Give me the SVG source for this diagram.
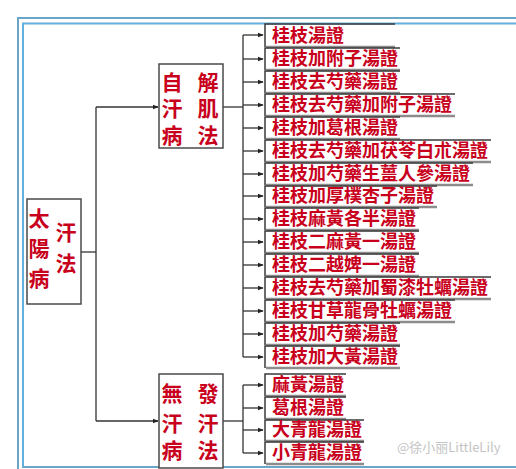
<svg xmlns="http://www.w3.org/2000/svg" width="516" height="469" viewBox="0 0 516 469">
<style>
.frame1{fill:none;stroke:#6aa6c6;stroke-width:2}
.frame2{fill:none;stroke:#62b0e0;stroke-width:2}
.box{fill:#fff;stroke:#4a4a4a;stroke-width:1.5}
.big{font-family:"Noto Sans CJK TC","Noto Sans CJK SC",sans-serif;font-weight:bold;font-size:21px;fill:#c8001c;text-anchor:middle}
.leaf{font-family:"Noto Sans CJK TC","Noto Sans CJK SC",sans-serif;font-weight:bold;font-size:18px;fill:#c8001c}
.ln{fill:none;stroke:#333;stroke-width:1.3}
.lt{fill:none;stroke:#3a3a3a;stroke-width:1.5}
.sh{fill:none;stroke:#8c8c8c;stroke-width:2.5}
.wm{font-family:"Noto Sans CJK SC",sans-serif;font-size:13px;fill:#c4c4c4}
</style>
<defs>
<marker id="ah" viewBox="0 0 8 8" refX="7" refY="4" markerWidth="6" markerHeight="6" orient="auto" markerUnits="userSpaceOnUse">
<path d="M0,1 L8,4 L0,7 Z" fill="#222"/>
</marker>
</defs>
<rect width="516" height="469" fill="#fff"/>
<path class="frame1" d="M530,18 H18 V480"/>
<path class="frame2" d="M530,23.5 H23 V467 H530"/>
<path d="M23,467 H530" stroke="#6aa6c6" stroke-width="2"/>

<g id="connectors">
<path class="ln" d="M81,252 H96"/>
<path class="ln" d="M96,107 V421"/>
<path class="ln" d="M96,107 H158" marker-end="url(#ah)"/>
<path class="ln" d="M96,421 H158" marker-end="url(#ah)"/>
<path class="ln" d="M223,107 H243"/>
<path class="ln" d="M243,35 V357"/>
<path class="ln" d="M243,35 H263" marker-end="url(#ah)"/>
<path class="ln" d="M243,59 H263" marker-end="url(#ah)"/>
<path class="ln" d="M243,82 H263" marker-end="url(#ah)"/>
<path class="ln" d="M243,105 H263" marker-end="url(#ah)"/>
<path class="ln" d="M243,128 H263" marker-end="url(#ah)"/>
<path class="ln" d="M243,151 H263" marker-end="url(#ah)"/>
<path class="ln" d="M243,174 H263" marker-end="url(#ah)"/>
<path class="ln" d="M243,196 H263" marker-end="url(#ah)"/>
<path class="ln" d="M243,219 H263" marker-end="url(#ah)"/>
<path class="ln" d="M243,242 H263" marker-end="url(#ah)"/>
<path class="ln" d="M243,265 H263" marker-end="url(#ah)"/>
<path class="ln" d="M243,288 H263" marker-end="url(#ah)"/>
<path class="ln" d="M243,311 H263" marker-end="url(#ah)"/>
<path class="ln" d="M243,334 H263" marker-end="url(#ah)"/>
<path class="ln" d="M243,357 H263" marker-end="url(#ah)"/>
<path class="ln" d="M223,421 H243"/>
<path class="ln" d="M243,385 V453"/>
<path class="ln" d="M243,385 H263" marker-end="url(#ah)"/>
<path class="ln" d="M243,408 H263" marker-end="url(#ah)"/>
<path class="ln" d="M243,430 H263" marker-end="url(#ah)"/>
<path class="ln" d="M243,453 H263" marker-end="url(#ah)"/>
</g>

<g id="taiyang">
<rect class="box" x="27" y="199" width="54" height="105"/>
<text class="big" x="39" y="226">太</text>
<text class="big" x="39" y="256">陽</text>
<text class="big" x="39" y="286">病</text>
<text class="big" x="66" y="240">汗</text>
<text class="big" x="66" y="271">法</text>
</g>

<g id="zihan">
<rect class="box" x="159" y="64" width="64" height="84"/>
<text class="big" x="172" y="90">自</text>
<text class="big" x="172" y="116">汗</text>
<text class="big" x="172" y="143">病</text>
<text class="big" x="208" y="90">解</text>
<text class="big" x="208" y="116">肌</text>
<text class="big" x="208" y="143">法</text>
</g>

<g id="wuhan">
<rect class="box" x="159" y="374" width="64" height="94"/>
<text class="big" x="172" y="401">無</text>
<text class="big" x="172" y="431">汗</text>
<text class="big" x="172" y="458">病</text>
<text class="big" x="208" y="401">發</text>
<text class="big" x="208" y="431">汗</text>
<text class="big" x="208" y="458">法</text>
</g>

<g id="leaf1"><path class="sh" d="M266,47 H395"/><path class="lt" d="M265,47 V24 H395"/><text class="leaf" x="272" y="42">桂枝湯證</text></g>
<g id="leaf2"><path class="sh" d="M266,70 H400"/><path class="lt" d="M265,70 V48 H400"/><text class="leaf" x="272" y="65">桂枝加附子湯證</text></g>
<g id="leaf3"><path class="sh" d="M266,93 H400"/><path class="lt" d="M265,93 V71 H400"/><text class="leaf" x="272" y="88">桂枝去芍藥湯證</text></g>
<g id="leaf4"><path class="sh" d="M266,116 H455"/><path class="lt" d="M265,116 V94 H455"/><text class="leaf" x="272" y="111">桂枝去芍藥加附子湯證</text></g>
<g id="leaf5"><path class="sh" d="M266,139 H400"/><path class="lt" d="M265,139 V117 H400"/><text class="leaf" x="272" y="134">桂枝加葛根湯證</text></g>
<g id="leaf6"><path class="sh" d="M266,162 H491"/><path class="lt" d="M265,162 V140 H491"/><text class="leaf" x="272" y="157">桂枝去芍藥加茯苓白朮湯證</text></g>
<g id="leaf7"><path class="sh" d="M266,185 H473"/><path class="lt" d="M265,185 V163 H473"/><text class="leaf" x="272" y="180">桂枝加芍藥生薑人參湯證</text></g>
<g id="leaf8"><path class="sh" d="M266,207 H437"/><path class="lt" d="M265,207 V186 H437"/><text class="leaf" x="272" y="202">桂枝加厚樸杏子湯證</text></g>
<g id="leaf9"><path class="sh" d="M266,230 H419"/><path class="lt" d="M265,230 V208 H419"/><text class="leaf" x="272" y="225">桂枝麻黃各半湯證</text></g>
<g id="leaf10"><path class="sh" d="M266,253 H419"/><path class="lt" d="M265,253 V231 H419"/><text class="leaf" x="272" y="248">桂枝二麻黃一湯證</text></g>
<g id="leaf11"><path class="sh" d="M266,276 H419"/><path class="lt" d="M265,276 V254 H419"/><text class="leaf" x="272" y="271">桂枝二越婢一湯證</text></g>
<g id="leaf12"><path class="sh" d="M266,299 H491"/><path class="lt" d="M265,299 V277 H491"/><text class="leaf" x="272" y="294">桂枝去芍藥加蜀漆牡蠣湯證</text></g>
<g id="leaf13"><path class="sh" d="M266,322 H455"/><path class="lt" d="M265,322 V300 H455"/><text class="leaf" x="272" y="317">桂枝甘草龍骨牡蠣湯證</text></g>
<g id="leaf14"><path class="sh" d="M266,345 H400"/><path class="lt" d="M265,345 V323 H400"/><text class="leaf" x="272" y="340">桂枝加芍藥湯證</text></g>
<g id="leaf15"><path class="sh" d="M266,368 H400"/><path class="lt" d="M265,368 V346 H400"/><text class="leaf" x="272" y="363">桂枝加大黃湯證</text></g>

<g id="leaf16"><path class="sh" d="M266,396 H346"/><path class="lt" d="M265,396 V374 H346"/><text class="leaf" x="272" y="391">麻黃湯證</text></g>
<g id="leaf17"><path class="sh" d="M266,419 H346"/><path class="lt" d="M265,419 V397 H346"/><text class="leaf" x="272" y="414">葛根湯證</text></g>
<g id="leaf18"><path class="sh" d="M266,441 H364"/><path class="lt" d="M265,441 V420 H364"/><text class="leaf" x="272" y="436">大青龍湯證</text></g>
<g id="leaf19"><path class="sh" d="M266,464 H364"/><path class="lt" d="M265,464 V442 H364"/><text class="leaf" x="272" y="459">小青龍湯證</text></g>

<text class="wm" x="397" y="452">@徐小丽LittleLily</text>
</svg>
